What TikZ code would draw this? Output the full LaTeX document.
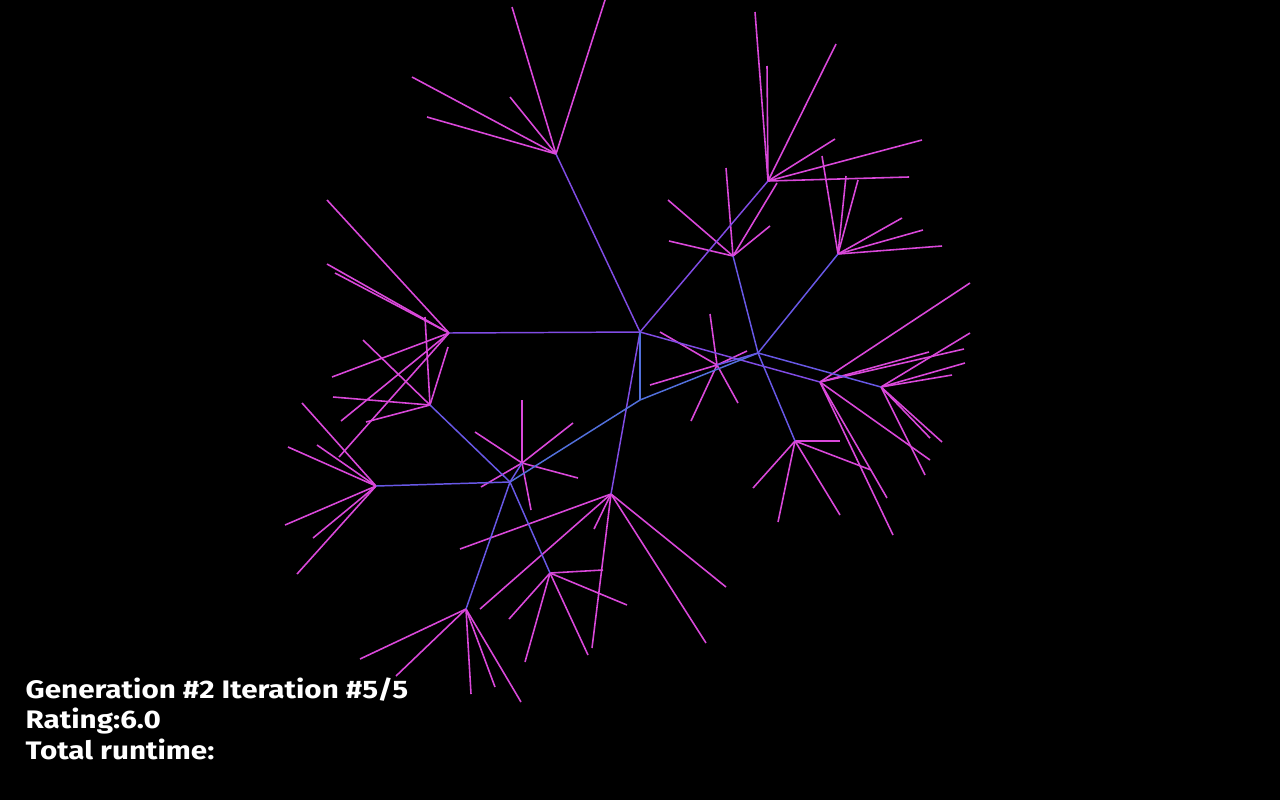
\documentclass[tikz,border=0pt]{standalone}
\usepackage{fontspec}
\setmainfont{Fira Sans}
\newfontfamily\labelfont[FakeStretch=1.17]{Fira Sans}
\definecolor{leafc}{RGB}{218,72,218}
\definecolor{edgec}{RGB}{128,76,228}
\definecolor{edgeh}{RGB}{82,112,220}
\definecolor{edgem}{RGB}{104,88,230}
\tikzset{
  leaf/.style={draw=leafc, line width=0.45pt},
  edge/.style={draw=edgec, line width=0.42pt},
  edgeH/.style={draw=edgeh, line width=0.42pt},
  edgeM/.style={draw=edgem, line width=0.42pt},
  label/.style={anchor=base west, inner sep=0pt, text=white, font=\labelfont\bfseries\fontsize{7.2}{8}\selectfont}
}
\begin{document}
\begin{tikzpicture}[x=0.01cm,y=-0.01cm]
\fill[black] (0,0) rectangle (1280,800);
\useasboundingbox (0,0) rectangle (1280,800);
% hubs
\coordinate (C) at (640,332);
\coordinate (H) at (640,400);
\coordinate (A) at (449,333);
\coordinate (B) at (556,154);
\coordinate (J) at (768,181);
\coordinate (K) at (733,256);
\coordinate (E) at (758,353);
\coordinate (L) at (838,254);
\coordinate (F) at (820,382);
\coordinate (M) at (881,387);
\coordinate (N) at (795,441);
\coordinate (U) at (717,365);
\coordinate (G) at (611,494);
\coordinate (I) at (510,482);
\coordinate (S) at (522,463);
\coordinate (P) at (430,405);
\coordinate (Q) at (376,486);
\coordinate (R) at (466,609);
\coordinate (T) at (550,573);
% leaves
\foreach \p in {(512,7),(605,0),(412,77),(427,117),(510,97)} \draw[leaf] (B) -- \p;
\foreach \p in {(755,12),(767,66),(836,44),(835,139),(922,140),(909,177)} \draw[leaf] (J) -- \p;
\foreach \p in {(668,200),(726,168),(777,183),(770,226),(669,241)} \draw[leaf] (K) -- \p;
\foreach \p in {(822,156),(846,176),(858,180),(902,218),(923,230),(942,246)} \draw[leaf] (L) -- \p;
\foreach \p in {(970,283),(929,352),(964,349),(930,460),(887,498),(893,535)} \draw[leaf] (F) -- \p;
\foreach \p in {(970,333),(965,363),(952,375),(942,442),(930,438),(925,475)} \draw[leaf] (M) -- \p;
\foreach \p in {(840,441),(871,470),(840,515),(778,522),(753,488)} \draw[leaf] (N) -- \p;
\foreach \p in {(710,314),(660,332),(650,385),(747,351),(738,403),(691,421)} \draw[leaf] (U) -- \p;
\foreach \p in {(327,200),(327,264),(335,273),(332,377),(341,421),(339,457)} \draw[leaf] (A) -- \p;
\foreach \p in {(333,397),(366,422),(363,340),(425,317),(448,347)} \draw[leaf] (P) -- \p;
\foreach \p in {(302,403),(288,447),(317,445),(285,525),(313,538),(297,574)} \draw[leaf] (Q) -- \p;
\foreach \p in {(522,400),(475,432),(573,423),(578,478),(481,487),(531,510)} \draw[leaf] (S) -- \p;
\foreach \p in {(460,549),(480,609),(594,529),(592,648),(726,587),(706,643)} \draw[leaf] (G) -- \p;
\foreach \p in {(603,570),(627,605),(588,655),(525,662),(509,619)} \draw[leaf] (T) -- \p;
\foreach \p in {(360,659),(396,676),(471,694),(495,687),(521,702)} \draw[leaf] (R) -- \p;
% internal edges
\draw[edge] (C) -- (A);
\draw[edge] (C) -- (B);
\draw[edge] (C) -- (J);
\draw[edge] (C) -- (F);
\draw[edge] (C) -- (G);
\draw[edgeH] (C) -- (H);
\draw[edgeH] (H) -- (E);
\draw[edgeH] (H) -- (I);
\draw[edgeM] (E) -- (K);
\draw[edgeM] (E) -- (L);
\draw[edgeM] (E) -- (M);
\draw[edgeM] (E) -- (N);
\draw[edgeM] (E) -- (U);
\draw[edgeM] (I) -- (Q);
\draw[edgeM] (I) -- (P);
\draw[edgeM] (I) -- (R);
\draw[edgeM] (I) -- (T);
\draw[edgeM] (I) -- (S);
% text
\node[label] (t1) at (25,698) {Generation \#2 Iteration \#5/5};
\node[label] (t2) at (25,728) {Rating:6.0};
\node[label] (t3) at (25,759) {Total runtime:};
\end{tikzpicture}
\end{document}
